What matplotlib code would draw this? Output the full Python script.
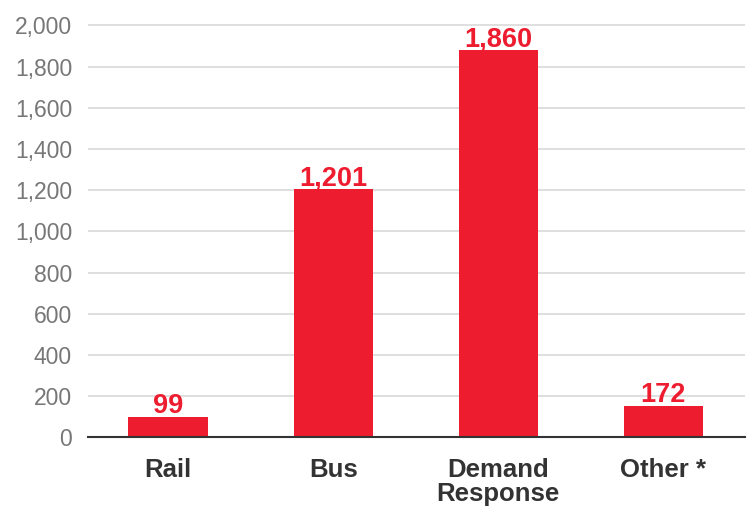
import matplotlib.pyplot as plt

# values
categories = ["Rail", "Bus", "Demand\nResponse", "Other *"]
bar_heights = [97, 1204, 1879, 152]
value_labels = ["99", "1,201", "1,860", "172"]
y_ticks = [0, 200, 400, 600, 800, 1000, 1200, 1400, 1600, 1800, 2000]

red = "#ED1C2E"
plt.rcParams["font.family"] = ["Liberation Sans", "DejaVu Sans"]

fig = plt.figure(figsize=(7.49, 5.08), dpi=100)
ax = fig.add_axes([0.1175, 0.139, 0.8772, 0.8354])

x = range(len(categories))
ax.bar(x, bar_heights, width=0.48, color=red, zorder=3)

for xi, h, lab in zip(x, bar_heights, value_labels):
    ax.annotate(lab, (xi, h), xytext=(0, 3), textcoords="offset points",
                ha="center", va="baseline", color=red,
                fontsize=19.5, fontweight="bold", zorder=4)

ax.set_xlim(-0.485, 3.495)
ax.set_ylim(0, 2060)
ax.set_yticks(y_ticks)
ax.set_yticklabels([f"{v:,}" for v in y_ticks])
ax.set_xticks(list(x))
ax.set_xticklabels(categories, fontsize=18.5, fontweight="bold", color="#333333",
                   linespacing=1.0)

ax.yaxis.grid(True, color="#d9d9d9", linewidth=1.2, zorder=0)
ax.tick_params(axis="y", length=0, pad=11.5, labelsize=16.5, labelcolor="#777777")
ax.tick_params(axis="x", length=0, pad=15)

for s in ["top", "right", "left"]:
    ax.spines[s].set_visible(False)
ax.spines["bottom"].set_color("#333333")
ax.spines["bottom"].set_linewidth(1.5)
ax.spines["bottom"].set_zorder(5)

fig.savefig("out.png", dpi=100)
